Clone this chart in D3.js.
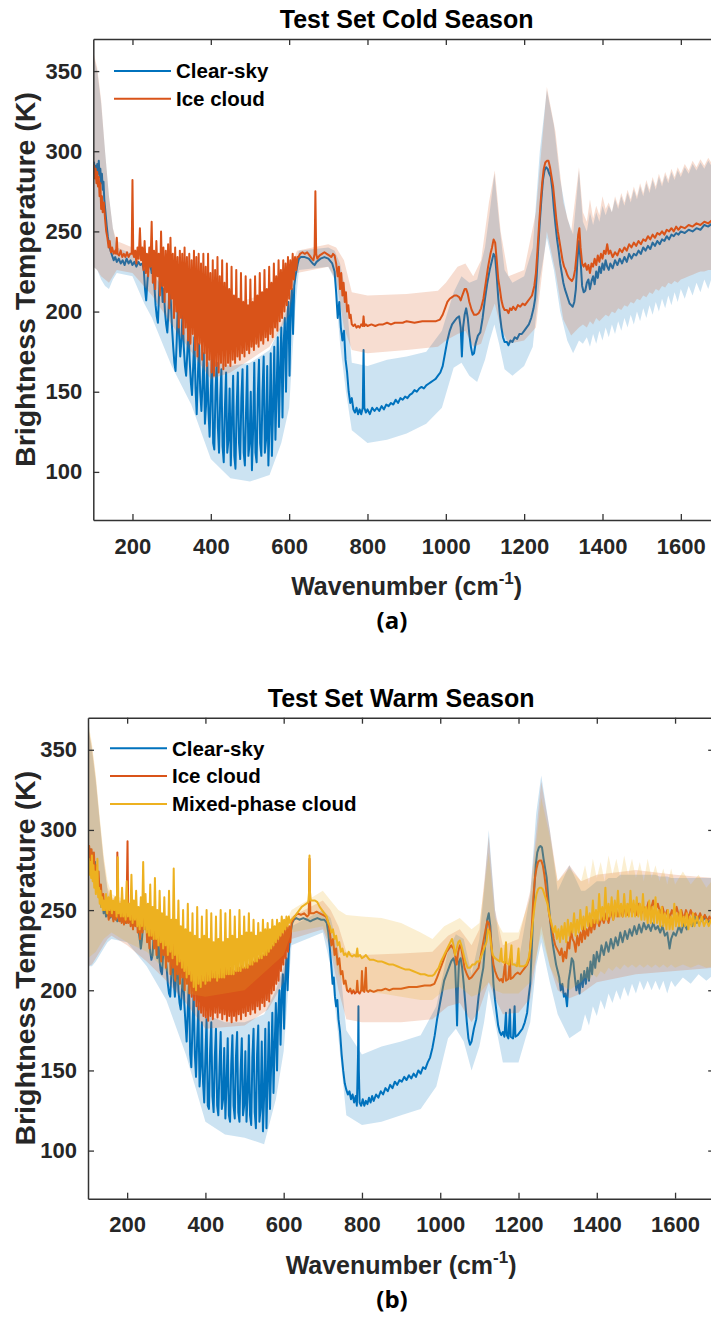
<!DOCTYPE html>
<html>
<head>
<meta charset="utf-8">
<script src="https://cdn.jsdelivr.net/npm/d3@7"></script>
<style>
  body { margin: 0; background: #ffffff; }
  svg { display: block; font-family: "Liberation Sans", Arial, Helvetica, sans-serif; }
</style>
</head>
<body>
<svg id="fig" width="711" height="1320"></svg>
<script>
// ---------------- data ----------------
const wnTicks = [200, 400, 600, 800, 1000, 1200, 1400, 1600];
const btTicks = [100, 150, 200, 250, 300, 350];
const wnDomain = [100, 1700];
const btDomain = [70, 370];

const seriesNamesCold = ["Clear-sky", "Ice cloud"];
const seriesNamesWarm = ["Clear-sky", "Ice cloud", "Mixed-phase cloud"];

// Cold season, clear-sky mean brightness temperature [wavenumber, K]
const coldClear = [[100,287],[102,293],[104,285],[106,291],[108,284],[110,292],[112,286],[114,294],[116,284],[118,289],[120,280],[122,286],[124,276],[126,281],[128,270],[131,262],[134,254],[137,247],[140,242],[144,238],[148,235],[152,232],[156,234],[160,231],
[165,233],[170,230],[175,232],[180,229],[185,233],[190,230],[195,232],[200,229],[205,231],[210,228],[215,231],[220,229],[225,230],[229,226],[232,214],[235,207],[238,218],[241,228],[245,230],[249,224],[252,228],[256,216],[259,204],[262,197],[265,193],[268,212],[271,226],[274,222],[277,206],[280,214],[283,200],[286,192],[289,187],[292,200],[295,218],[298,206],[301,190],[304,178],[307,168],[310,163],[313,182],[316,205],[319,186],[322,172],[325,182],[328,200],[331,178],[334,166],[337,160],[340,174],[343,190],[346,170],[349,156],[352,148],[355,166],[358,184],[361,152],[364,136],[367,160],[370,180],[373,150],[376,138],[379,156],[382,174],[385,130],[388,142],[391,168],[394,138],[397,122],[400,150],[403,170],[406,118],[409,114],[412,150],[415,168],[418,128],[421,112],[424,146],[427,164],[430,116],[433,106],[436,140],[439,162],[442,112],[445,120],[448,152],[451,104],[454,132],[457,160],[460,110],[463,102],[466,140],[469,162],[472,118],[475,108],[478,146],[481,164],[484,112],[487,104],[490,138],[493,166],[496,110],[499,118],[502,150],[505,101],[508,126],[511,168],[514,112],[517,106],[520,148],[523,170],[526,118],[529,110],[532,150],[535,172],[538,112],[541,120],[544,166],[547,104],[550,130],[553,174],[556,110],[559,140],[562,178],[565,120],[568,150],[571,184],[574,128],[577,164],[580,190],[583,134],[586,180],[589,196],[592,150],[595,192],[598,206],[601,160],[604,202],[607,214],[610,186],[613,216],[616,222],[619,226],[622,230],
[625,233],[630,234],[640,234],[650,233],[660,230],[665,229],[670,231],[680,233],[690,234],[700,233],[710,230],[716,225],[720,212],[724,196],[728,206],[732,190],[736,182],[740,188],[744,170],[748,162],[752,150],[756,143],[760,146],[764,139],[768,137],[772,140],[776,136],[780,139],[784,136],[788,140],[790,176],[792,140],[796,137],[800,139],[806,136],[812,140],[818,138],[824,140],[830,138],[836,141],[842,139],[848,142],[854,141],[860,143],[866,142],[872,145],[878,143],[884,146],[890,145],[896,147],[902,146],[908,148],[914,149],[920,151],[926,150],[932,152],[938,153],[944,152],[950,154],[956,155],[962,156],[968,157],[974,158],[980,160],[986,162],[992,166],[998,174],[1004,182],[1010,188],[1016,192],[1022,194],[1028,196],[1034,197],[1038,190],[1041,172],[1044,190],[1048,198],[1052,202],[1056,196],[1060,186],[1064,178],[1068,173],[1072,174],[1076,180],[1082,185],[1088,187],[1094,196],[1100,208],[1106,218],[1112,226],[1118,232],[1122,236],[1126,234],[1130,222],[1134,208],[1138,198],[1142,190],[1146,184],[1150,181],[1156,181],[1160,179],[1165,182],[1170,181],[1176,184],[1182,183],[1188,186],[1194,186],[1200,188],[1206,190],[1212,192],[1218,196],[1224,202],[1228,208],[1232,222],[1236,240],[1240,256],[1244,270],[1248,282],[1252,288],[1256,290],[1260,289],[1264,286],[1268,284],[1272,276],[1276,264],[1280,254],[1284,245],[1288,238],[1292,230],[1296,224],[1300,218],[1304,214],[1308,211],[1312,208],[1316,205],[1320,204],[1324,203],[1328,206],[1332,214],[1336,232],[1340,244],[1344,232],[1348,216],[1352,212],[1356,213],[1360,218],[1364,220],[1368,214],[1372,219],[1376,222],[1380,217],[1384,225],[1388,221],[1392,228],[1396,224],[1400,230],[1404,226],[1408,232],[1412,228],[1416,226],[1420,230],[1426,227],[1432,232],[1438,229],[1444,233],[1450,230],[1456,234],[1462,231],[1468,236],[1474,233],[1480,236],[1486,235],[1492,238],[1498,236],[1504,240],[1510,238],[1516,241],[1522,239],[1528,243],[1534,241],[1540,244],[1546,242],[1552,245],[1558,244],[1564,247],[1570,245],[1576,248],[1582,247],[1588,249],[1594,248],[1600,250],[1610,249],[1620,251],[1630,250],[1640,252],[1650,251],[1660,254],[1670,253],[1680,255],[1690,254],[1700,256]];

// Cold season, ice-cloud mean brightness temperature [wavenumber, K]
const coldIce = [[100,286],[102,291],[104,283],[106,289],[108,280],[110,287],[112,278],[114,284],[116,272],[118,280],[120,264],[122,272],[124,262],[127,268],[130,258],[133,250],[136,246],[139,240],[142,244],[145,237],[148,240],[152,236],[156,238],[158,236],[160,246],[162,236],[166,235],[170,238],[174,234],[178,236],[182,234],[186,237],[190,234],[194,236],[198,236],[200,282],[202,236],
[204,234],[207,238],[210,230],[213,240],[216,233],[219,252],[222,232],[225,240],[228,226],[231,244],[234,224],[237,236],[240,222],[243,240],[246,228],[249,256],[252,218],[255,238],[258,214],[261,244],[264,222],[267,236],[270,210],[273,250],[276,216],[279,240],[282,206],[285,238],[288,212],[291,242],[294,202],[297,246],[300,208],[303,236],[306,196],[309,240],[312,200],[315,234],[318,190],[321,238],[324,196],[327,236],[330,186],[333,240],[336,190],[339,234],[342,182],[345,236],[348,180],[351,232],[354,186],[357,238],[360,176],[363,234],[366,172],[369,236],[372,180],[375,230],[378,170],[381,236],[384,174],[387,228],[390,166],[393,236],[396,170],[399,224],[402,162],[405,232],[408,160],[411,226],[414,166],[417,234],[420,162],[423,222],[426,168],[429,232],[432,164],[435,218],[438,166],[441,230],[444,168],[447,214],[450,166],[453,228],[456,170],[459,210],[462,168],[465,226],[468,172],[471,208],[474,170],[477,224],[480,174],[483,206],[486,172],[489,222],[492,176],[495,204],[498,174],[501,220],[504,178],[507,206],[510,176],[513,222],[516,180],[519,210],[522,178],[525,224],[528,182],[531,212],[534,180],[537,226],[540,184],[543,214],[546,182],[549,228],[552,186],[555,218],[558,184],[561,230],[564,190],[567,222],[570,188],[573,232],[576,194],[579,226],[582,196],[585,232],[588,200],[591,230],[594,204],[597,234],[600,208],[603,232],[606,214],[609,236],[612,220],[615,234],[618,226],[621,234],
[624,234],[628,236],[634,237],[640,236],[646,237],[652,235],[658,233],[662,232],[665,236],[667,275],[669,236],[672,233],[678,235],[684,236],[690,237],[696,236],[702,235],[708,234],[712,236],[716,235],[720,230],[724,222],[727,228],[730,214],[733,224],[736,210],[739,218],[742,206],[745,212],[748,200],[751,204],[754,196],[757,198],[760,192],[764,191],[768,192],[772,190],[776,191],[780,190],[784,192],[788,191],[790,197],[792,191],[796,192],[800,191],[810,192],[820,191],[830,192],[840,192],[850,193],[860,192],[870,193],[880,193],[890,193],[900,194],[920,193],[940,194],[960,194],[975,194],[985,195],[992,198],[998,202],[1004,206],[1010,208],[1016,209],[1022,210],[1028,210],[1034,209],[1038,207],[1042,210],[1048,214],[1052,214],[1056,211],[1060,206],[1066,201],[1072,198],[1078,198],[1084,199],[1090,202],[1096,208],[1102,218],[1108,228],[1114,236],[1118,240],[1122,245],[1126,243],[1130,232],[1134,220],[1138,214],[1142,207],[1146,203],[1150,201],[1156,201],[1160,199],[1164,202],[1168,201],[1172,203],[1178,201],[1184,204],[1190,203],[1196,205],[1202,204],[1208,206],[1214,208],[1220,210],[1226,216],[1230,224],[1234,238],[1238,254],[1242,268],[1246,280],[1250,289],[1254,293],[1258,294],[1262,294],[1266,290],[1270,284],[1274,278],[1278,268],[1282,258],[1286,250],[1290,244],[1294,238],[1298,232],[1302,228],[1306,226],[1310,223],[1314,221],[1318,220],[1322,219],[1326,221],[1330,226],[1334,236],[1338,248],[1341,252],[1344,240],[1348,230],[1352,228],[1356,230],[1360,226],[1364,229],[1368,224],[1372,230],[1376,228],[1380,233],[1384,229],[1388,235],[1392,231],[1396,236],[1400,233],[1404,238],[1408,236],[1412,242],[1416,236],[1420,238],[1426,234],[1432,237],[1438,235],[1444,239],[1450,237],[1456,240],[1462,238],[1468,242],[1474,240],[1480,243],[1486,241],[1492,244],[1498,242],[1504,245],[1510,244],[1516,247],[1522,245],[1528,248],[1534,246],[1540,249],[1546,248],[1552,250],[1558,248],[1564,251],[1570,250],[1576,252],[1582,250],[1588,253],[1594,251],[1600,253],[1610,252],[1620,254],[1630,253],[1640,255],[1650,254],[1660,256],[1670,255],[1680,257],[1690,256],[1700,258]];

// Cold season spread bands [wavenumber, lower K, upper K]
const coldClearBand = [[100,228,360],[110,226,350],[120,220,330],[130,216,300],[140,214,272],[150,220,252],[160,224,240],[200,222,236],[230,205,228],[250,196,224],[300,166,208],[350,142,188],[400,108,170],[450,96,166],[500,94,168],[550,98,176],[580,118,192],[600,140,206],[615,200,228],[625,226,238],[700,228,240],[716,220,238],[730,180,230],[745,150,212],[760,126,168],[800,118,166],[850,120,170],[900,124,172],[950,130,175],[990,140,188],[1020,165,212],[1040,168,222],[1060,160,218],[1080,156,220],[1100,170,240],[1112,182,262],[1124,192,286],[1136,180,256],[1150,164,226],[1170,160,218],[1200,166,222],[1222,178,240],[1240,220,300],[1258,246,338],[1276,226,316],[1292,200,282],[1310,182,258],[1325,174,248],[1340,182,288],
[1350,180,256],[1360,184,250],[1368,178,262],[1376,186,254],[1384,180,262],[1392,188,256],[1400,182,266],[1408,190,260],[1416,184,266],[1424,192,262],[1432,186,270],[1440,194,264],[1448,188,272],[1456,196,266],[1464,190,274],[1472,198,268],[1480,192,276],[1488,200,270],[1496,194,278],[1504,202,272],[1512,196,280],[1520,204,274],[1528,198,282],[1536,206,276],[1544,200,284],[1552,208,278],[1560,202,285],[1568,210,280],[1576,204,287],[1584,212,282],[1592,206,288],[1600,214,284],[1610,208,290],[1620,216,286],[1630,210,292],[1640,218,288],[1650,212,293],[1660,220,289],[1670,214,294],[1680,222,290],[1690,216,295],[1700,222,292]];
const coldIceBand = [[100,228,362],[110,226,352],[120,222,332],[130,220,300],[140,218,272],[150,222,252],[160,226,244],[200,224,240],[250,210,232],[300,192,225],[350,175,215],[400,158,205],[450,162,205],[500,170,208],[550,178,212],[600,198,225],[620,224,238],[700,228,242],[720,220,240],[740,190,232],[760,176,212],[800,174,210],[900,176,211],[980,178,213],[1000,182,218],[1030,186,228],[1050,188,230],[1070,178,222],[1090,180,232],[1110,195,268],[1125,205,288],[1140,190,250],[1160,180,222],[1200,182,226],[1230,190,262],[1258,250,340],[1280,225,312],[1300,195,268],[1320,185,250],[1340,190,290],
[1350,192,262],[1360,190,256],[1368,194,270],[1376,192,258],[1384,196,266],[1392,194,260],[1400,196,272],[1408,198,264],[1416,197,268],[1424,200,262],[1432,199,272],[1440,202,266],[1448,201,274],[1456,204,268],[1464,203,276],[1472,206,270],[1480,205,278],[1488,208,272],[1496,207,280],[1504,210,274],[1512,209,282],[1520,212,276],[1528,211,284],[1536,214,278],[1544,213,286],[1552,216,280],[1560,215,287],[1568,218,282],[1576,217,289],[1584,219,284],[1592,218,290],[1600,220,286],[1610,221,292],[1620,222,288],[1630,223,294],[1640,224,290],[1650,225,295],[1660,225,291],[1670,226,296],[1680,226,292],[1690,227,297],[1700,227,294]];

// Warm season, clear-sky mean brightness temperature [wavenumber, K]
const warmClear = [[100,284],[102,290],[104,282],[106,288],[108,278],[110,286],[112,276],[114,282],[116,272],[118,280],[120,268],[122,274],[124,264],[126,270],[128,258],[131,262],[134,252],[137,256],[140,248],[143,252],[146,246],[150,248],[155,245],[160,247],[165,244],[170,246],[175,243],[180,246],[185,243],[190,245],[195,242],[200,245],[205,243],[210,245],[215,242],[220,244],[225,241],[229,238],[232,232],[235,226],[238,232],[241,242],[245,244],[249,238],[252,240],[256,232],[259,224],[262,219],[265,222],[268,236],[271,240],[274,232],[277,220],[280,230],[283,218],[286,212],[289,210],[292,222],[295,236],[298,222],[301,214],[304,204],[307,198],[310,196],[313,210],[316,228],[319,206],[322,196],[325,208],[328,222],[331,200],[334,192],[337,188],[340,200],[343,214],[346,192],[349,180],[352,168],[355,188],[358,206],[361,160],[364,152],[367,178],[370,198],[373,160],[376,146],[379,170],[382,190],[385,140],[388,152],[391,180],[394,142],[397,130],[400,160],[403,182],[406,128],[409,126],[412,162],[415,180],[418,134],[421,124],[424,158],[427,176],[430,128],[433,122],[436,152],[439,174],[442,126],[445,132],[448,164],[451,120],[454,142],[457,170],[460,122],[463,118],[466,154],[469,172],[472,128],[475,120],[478,158],[481,174],[484,124],[487,118],[490,150],[493,170],[496,122],[499,128],[502,162],[505,118],[508,136],[511,172],[514,122],[517,116],[520,158],[523,176],[526,124],[529,114],[532,160],[535,178],[538,118],[541,126],[544,168],[547,112],[550,134],[553,176],[556,114],[559,144],[562,180],[565,126],[568,154],[571,186],[574,136],[577,166],[580,192],[583,150],[586,184],[589,200],[592,166],[595,198],[598,210],[601,176],[604,208],[607,220],[610,200],[613,224],[616,232],[619,238],[622,242],
[626,244],[632,245],[640,244],[650,245],[660,244],[668,243],[676,244],[686,245],[696,244],[704,244],[710,242],[714,236],[718,226],[722,214],[725,204],[728,208],[731,196],[734,190],[737,194],[740,182],[744,174],[748,160],[752,150],[756,142],[760,138],[764,135],[768,137],[772,132],[776,135],[780,130],[784,134],[787,128],[790,160],[791,190],[792,150],[794,130],[798,128],[802,132],[806,128],[810,131],[814,129],[818,133],[822,130],[826,134],[830,131],[836,135],[842,133],[848,137],[854,135],[860,139],[866,137],[872,141],[878,139],[884,143],[890,141],[896,144],[902,143],[908,146],[914,144],[920,147],[926,145],[932,148],[938,146],[944,150],[950,148],[956,152],[962,151],[968,155],[974,158],[980,164],[986,172],[992,182],[998,190],[1004,198],[1010,206],[1016,210],[1022,214],[1028,218],[1034,220],[1038,216],[1041,196],[1043,178],[1045,200],[1048,218],[1052,220],[1056,214],[1060,204],[1064,192],[1068,180],[1072,170],[1076,166],[1080,168],[1086,176],[1092,182],[1098,196],[1104,206],[1110,214],[1116,232],[1120,244],[1124,248],[1128,240],[1132,222],[1136,204],[1140,194],[1144,186],[1148,178],[1152,174],[1156,172],[1160,174],[1164,171],[1168,186],[1170,172],[1174,170],[1178,188],[1180,171],[1186,170],[1190,190],[1192,171],[1198,172],[1204,174],[1210,176],[1216,180],[1222,186],[1226,196],[1230,204],[1236,238],[1240,262],[1244,278],[1248,286],[1252,289],[1256,290],[1260,289],[1264,282],[1268,276],[1272,270],[1276,258],[1280,246],[1284,236],[1288,228],[1292,222],[1296,216],[1300,212],[1304,208],[1308,200],[1312,204],[1316,196],[1320,198],[1324,190],[1328,206],[1332,212],[1336,220],[1340,218],[1344,208],[1348,200],[1352,206],[1356,198],[1360,210],[1364,202],[1368,212],[1372,204],[1376,214],[1380,206],[1384,218],[1388,210],[1392,222],[1396,214],[1400,224],[1406,218],[1412,228],[1418,222],[1424,230],[1430,224],[1436,232],[1442,226],[1448,233],[1454,228],[1460,236],[1466,230],[1472,237],[1478,232],[1484,238],[1490,234],[1496,240],[1502,235],[1508,241],[1514,236],[1520,242],[1526,238],[1532,241],[1538,237],[1544,242],[1550,238],[1556,240],[1562,236],[1568,240],[1574,234],[1580,236],[1586,226],[1590,232],[1596,236],[1602,234],[1610,240],[1616,236],[1622,242],[1630,238],[1636,244],[1644,240],[1650,246],[1656,242],[1664,247],[1670,243],[1678,246],[1686,242],[1692,244],[1700,241]];

// Warm season, ice-cloud mean brightness temperature [wavenumber, K]
const warmIce = [[100,284],[103,290],[106,280],[109,288],[112,276],[115,286],[118,270],[121,278],[124,264],[127,274],[130,258],[133,266],[136,254],[139,260],[142,250],[145,256],[148,248],
[150,250],[153,244],[156,252],[159,246],[162,250],[165,243],[168,252],[171,244],[174,248],[175,286],[177,246],[180,243],[183,250],[186,242],[189,248],[192,241],[195,250],[198,242],[201,293],[203,242],[206,248],[209,240],[212,250],[215,238],[218,248],[221,240],[224,252],[227,236],[230,246],[233,232],[236,250],[239,236],[242,248],[245,240],[248,252],[251,230],[254,246],[257,226],[260,244],[263,232],[266,250],[269,226],[272,244],[275,222],[278,248],[281,228],[284,242],[287,218],[290,246],[293,222],[296,240],[299,214],[302,244],[305,218],[308,238],[311,210],[314,242],[317,214],[320,236],[323,206],[326,240],[329,210],[332,234],[335,204],[338,238],[341,208],[344,232],[347,200],[350,236],[353,204],[356,230],[359,198],[362,234],[365,196],[368,226],[371,194],[374,232],[377,190],[380,224],[383,188],[386,230],[389,186],[392,222],[395,184],[398,228],[401,183],[404,220],[407,181],[410,226],[413,184],[416,218],[419,182],[422,224],[425,186],[428,218],[431,183],[434,222],[437,186],[440,216],[443,182],[446,220],[449,185],[452,214],[455,181],[458,220],[461,184],[464,214],[467,180],[470,218],[473,184],[476,212],[479,181],[482,218],[485,185],[488,214],[491,182],[494,220],[497,186],[500,214],[503,184],[506,222],[509,187],[512,216],[515,185],[518,224],[521,188],[524,218],[527,186],[530,226],[533,190],[536,220],[539,188],[542,228],[545,192],[548,222],[551,190],[554,230],[557,194],[560,226],[563,193],[566,232],[569,198],[572,228],[575,200],[578,234],[581,204],[584,232],[587,206],[590,236],[593,212],[596,236],[599,216],[602,238],[605,220],[608,240],[611,224],[614,240],[617,230],[620,242],[624,244],
[628,246],[636,248],[644,247],[652,248],[660,246],[664,247],[666,282],[668,248],[676,248],[684,249],[692,248],[700,247],[708,246],[714,242],[718,236],[722,228],[726,232],[730,222],[734,226],[738,216],[742,220],[746,210],[750,212],[754,204],[758,206],[762,200],[766,199],[770,201],[774,198],[778,200],[782,198],[786,199],[788,206],[790,199],[794,198],[798,200],[800,212],[802,200],[806,199],[810,214],[812,200],[816,199],[820,200],[830,199],[840,200],[850,200],[860,201],[870,200],[880,201],[890,201],[900,201],[920,202],[940,202],[960,203],[975,203],[985,204],[992,208],[998,212],[1004,216],[1010,220],[1016,224],[1022,226],[1028,228],[1034,226],[1038,222],[1042,216],[1046,224],[1050,228],[1054,226],[1058,220],[1062,214],[1068,210],[1074,207],[1080,208],[1086,210],[1092,212],[1098,214],[1104,222],[1110,230],[1116,238],[1120,243],[1124,242],[1128,236],[1132,224],[1136,216],[1140,212],[1146,208],[1152,206],[1156,207],[1160,205],[1166,218],[1168,206],[1174,207],[1178,220],[1180,207],[1186,208],[1192,210],[1198,211],[1204,210],[1210,212],[1216,214],[1222,216],[1228,220],[1234,240],[1238,258],[1242,270],[1246,276],[1250,280],[1254,281],[1258,281],[1262,278],[1266,272],[1270,264],[1274,256],[1278,248],[1282,242],[1286,238],[1290,232],[1294,228],[1298,226],[1302,224],[1306,222],[1310,226],[1314,218],[1318,224],[1322,220],[1326,230],[1330,226],[1334,238],[1338,232],[1342,230],[1346,224],[1350,234],[1354,228],[1358,236],[1362,230],[1366,240],[1370,232],[1374,238],[1378,234],[1382,242],[1386,236],[1390,244],[1394,238],[1400,246],[1406,240],[1412,246],[1418,242],[1424,248],[1430,242],[1436,250],[1442,244],[1448,252],[1454,246],[1460,250],[1466,246],[1472,252],[1478,247],[1484,254],[1490,248],[1496,252],[1502,247],[1508,254],[1514,248],[1520,252],[1526,249],[1532,255],[1538,250],[1544,256],[1550,250],[1556,254],[1562,248],[1568,252],[1574,246],[1580,250],[1586,245],[1592,250],[1598,246],[1604,252],[1610,246],[1616,250],[1622,244],[1628,250],[1634,245],[1640,250],[1646,246],[1652,248],[1658,244],[1664,248],[1670,244],[1676,247],[1682,243],[1688,246],[1694,242],[1700,244]];

// Warm season, mixed-phase cloud mean brightness temperature [wavenumber, K]
const warmMixed = [[100,276],[102,282],[104,272],[106,280],[108,270],[110,284],[112,268],[114,278],[116,264],[118,274],[120,260],[122,266],[124,282],[126,258],[128,264],[130,254],[132,262],[134,252],[136,258],[138,250],[140,256],[143,250],[146,260],[149,248],[152,258],[155,250],[158,262],[161,248],[164,256],[167,250],[170,258],[173,246],[176,283],[178,248],[181,254],[184,246],[187,264],[190,246],[193,256],[196,244],[199,268],[202,246],[205,254],[208,244],[211,272],[214,242],[217,256],[220,244],[223,262],[226,240],[229,252],[232,238],[235,258],[238,240],[241,280],[244,238],[247,260],[250,236],[253,254],[256,234],[259,266],[262,234],[265,252],[268,232],[271,270],[274,232],[277,250],[280,228],[283,262],[286,230],[289,248],[292,226],[295,258],[298,228],[301,246],[304,222],[307,262],[310,224],[313,244],[316,220],[319,276],[322,222],[325,244],[328,216],[331,256],[334,218],[337,240],[340,214],[343,250],[346,212],[349,238],[352,208],[355,254],[358,210],[361,236],[364,206],[367,248],[370,202],[373,234],[376,200],[379,252],[382,204],[385,232],[388,202],[391,246],[394,206],[397,234],[400,204],[403,250],[406,206],[409,232],[412,206],[415,248],[418,208],[421,230],[424,208],[427,246],[430,206],[433,232],[436,208],[439,250],[442,208],[445,230],[448,208],[451,248],[454,210],[457,232],[460,210],[463,250],[466,210],[469,234],[472,210],[475,246],[478,212],[481,232],[484,212],[487,250],[490,212],[493,234],[496,214],[499,246],[502,214],[505,236],[508,214],[511,248],[514,216],[517,236],[520,216],[523,244],[526,218],[529,234],[532,218],[535,242],[538,220],[541,236],[544,220],[547,244],[550,222],[553,238],[556,222],[559,242],[562,224],[565,238],[568,226],[571,244],[574,228],[577,240],[580,230],[583,244],[586,232],[589,242],[592,234],[595,246],[598,236],[601,244],[604,238],[607,246],[610,240],[613,246],[616,242],[620,244],[624,245],
[628,246],[634,248],[640,250],[646,252],[652,253],[658,254],[663,255],[665,262],[666,284],[667,262],[669,256],[674,256],[680,256],[686,255],[692,252],[698,250],[704,248],[710,246],[714,242],[718,240],[722,236],[726,238],[730,232],[734,234],[738,228],[742,230],[746,224],[750,226],[754,222],[758,223],[762,221],[766,224],[770,222],[775,221],[780,222],[785,221],[788,226],[790,221],[795,222],[800,220],[806,221],[810,222],[816,220],[820,219],[830,219],[840,218],[850,218],[860,217],[870,216],[880,216],[890,215],[900,214],[910,213],[920,213],[930,212],[940,211],[950,210],[960,210],[970,209],[980,209],[985,210],[990,212],[996,214],[1002,218],[1008,221],[1014,224],[1020,227],[1026,230],[1030,232],[1034,228],[1038,222],[1042,226],[1046,230],[1050,231],[1054,228],[1058,224],[1064,218],[1070,214],[1076,214],[1082,216],[1088,216],[1094,218],[1100,218],[1106,222],[1112,226],[1118,230],[1122,238],[1126,236],[1130,228],[1134,222],[1140,220],[1146,219],[1152,218],[1156,226],[1158,218],[1164,217],[1168,230],[1170,217],[1176,216],[1182,228],[1184,216],[1190,216],[1196,215],[1200,226],[1202,215],[1208,215],[1214,215],[1220,216],[1226,220],[1230,226],[1234,236],[1238,246],[1242,254],[1246,260],[1250,263],[1254,264],[1258,264],[1262,263],[1266,260],[1270,257],[1274,254],[1278,248],[1282,244],[1286,240],[1290,236],[1294,240],[1298,232],[1302,238],[1306,230],[1310,240],[1314,232],[1318,242],[1322,230],[1326,244],[1330,234],[1334,242],[1338,236],[1342,248],[1346,234],[1350,244],[1354,236],[1358,250],[1362,238],[1366,246],[1370,238],[1374,252],[1378,240],[1382,248],[1386,240],[1390,256],[1394,242],[1398,250],[1402,242],[1406,260],[1410,244],[1414,252],[1418,244],[1422,264],[1426,244],[1430,254],[1434,246],[1438,258],[1442,244],[1446,256],[1450,246],[1454,262],[1458,246],[1462,254],[1466,246],[1470,260],[1474,246],[1478,254],[1482,246],[1486,262],[1490,246],[1494,256],[1498,246],[1502,258],[1506,246],[1510,254],[1514,244],[1518,260],[1522,244],[1526,252],[1530,242],[1534,256],[1538,242],[1542,252],[1546,242],[1550,258],[1554,242],[1558,250],[1562,240],[1566,252],[1570,240],[1574,248],[1578,238],[1582,250],[1586,238],[1590,246],[1594,238],[1598,254],[1602,240],[1606,248],[1610,240],[1614,250],[1618,240],[1622,246],[1626,240],[1630,248],[1634,238],[1638,246],[1642,240],[1646,248],[1650,240],[1656,246],[1662,240],[1668,246],[1674,240],[1680,244],[1686,240],[1692,244],[1700,242]];

// Warm season spread bands [wavenumber, lower K, upper K]
const warmClearBand = [[100,215,365],[110,215,350],[120,218,330],[130,222,305],[140,226,280],[150,230,262],[160,232,252],[200,230,248],[250,215,240],[300,194,225],[350,160,205],[400,118,185],[450,110,180],[500,108,180],[550,104,185],[580,132,200],[600,162,215],[620,228,240],[700,236,250],[720,215,245],[740,170,225],[760,122,175],[800,116,160],[850,118,165],[900,122,168],[950,126,172],[990,140,190],[1020,170,225],[1040,176,235],[1060,168,232],[1080,150,210],[1100,165,232],[1112,180,262],[1124,200,300],[1140,180,250],[1160,155,215],[1200,155,218],[1230,180,260],[1245,215,310],[1258,230,334],[1280,205,300],[1300,185,262],[1330,170,278],
[1360,175,262],[1370,185,262],[1380,178,264],[1390,190,266],[1400,184,268],[1410,194,268],[1420,188,268],[1430,198,270],[1440,192,270],[1450,200,270],[1460,194,272],[1470,202,272],[1480,196,272],[1490,204,272],[1500,198,272],[1510,206,272],[1520,200,272],[1530,206,272],[1540,200,272],[1550,206,272],[1560,200,271],[1570,206,271],[1580,198,271],[1590,206,270],[1600,202,270],[1620,208,270],[1640,204,270],[1660,210,270],[1680,206,270],[1700,210,270]];
const warmIceBand = [[100,215,365],[110,216,352],[120,220,332],[130,224,306],[140,228,282],[150,232,264],[160,234,258],[200,228,254],[250,218,240],[300,206,232],[350,192,222],[400,176,215],[500,178,215],[560,188,222],[600,205,232],[620,232,246],[700,238,256],[720,225,250],[740,200,240],[760,182,224],[800,180,222],[900,180,223],[980,182,224],[1020,190,234],[1050,192,238],[1080,180,228],[1100,188,238],[1124,205,296],[1140,195,250],[1160,185,228],[1200,186,232],[1230,195,262],[1258,240,330],[1280,215,300],[1300,200,268],[1330,195,278],[1360,198,268],[1400,205,272],[1500,210,275],[1600,212,272],[1700,214,270]];
const warmMixedBand = [[100,220,368],[110,222,354],[120,224,334],[130,228,308],[140,232,284],[150,234,268],[160,236,260],[200,230,256],[250,224,245],[300,212,240],[350,198,232],[400,196,230],[500,200,232],[600,222,240],[620,236,250],[700,240,262],[720,228,256],[740,210,250],[760,200,247],[800,199,246],[850,198,245],[900,196,242],[950,194,236],[980,194,232],[1010,200,240],[1050,202,245],[1080,196,238],[1100,198,242],[1124,205,286],[1140,200,245],[1160,198,236],[1200,198,236],[1230,205,258],[1258,235,320],[1280,215,296],[1300,205,268],[1330,200,276],
[1360,205,268],[1370,208,278],[1380,206,266],[1390,210,282],[1400,208,270],[1410,212,280],[1420,210,268],[1430,214,284],[1440,212,272],[1450,215,282],[1460,213,270],[1470,216,284],[1480,214,272],[1490,216,282],[1500,214,270],[1510,216,280],[1520,214,268],[1530,216,282],[1540,214,270],[1550,216,278],[1560,214,268],[1570,216,276],[1580,214,266],[1590,216,276],[1600,214,266],[1620,216,274],[1640,214,266],[1660,216,272],[1680,214,264],[1700,215,270]];

// ---------------- drawing ----------------
const colors = { clear: "#0072BD", ice: "#D95319", mixed: "#EDB120" };
const svg = d3.select("#fig");

const panels = [
  { title: "Test Set Cold Season", tag: "(a)", top: 39, bottom: 520, left: 93.3, right: 720,
    names: seriesNamesCold,
    series: [ { line: coldClear, band: coldClearBand, color: colors.clear },
              { line: coldIce, band: coldIceBand, color: colors.ice } ],
    legendX: 114, legendY: 71 },
  { title: "Test Set Warm Season", tag: "(b)", top: 717.7, bottom: 1198.7, left: 88, right: 714.2,
    names: seriesNamesWarm,
    series: [ { line: warmClear, band: warmClearBand, color: colors.clear },
              { line: warmIce, band: warmIceBand, color: colors.ice },
              { line: warmMixed, band: warmMixedBand, color: colors.mixed } ],
    legendX: 110, legendY: 748.3 }
];

const axisColor = "#333333";
const tickFmt = d3.format("d");

panels.forEach((p, pi) => {
  const x = d3.scaleLinear().domain(wnDomain).range([p.left, p.right]);
  const y = d3.scaleLinear().domain(btDomain).range([p.bottom, p.top]);
  const g = svg.append("g");

  const clipId = "clip" + pi;
  svg.append("clipPath").attr("id", clipId)
    .append("rect").attr("x", p.left).attr("y", p.top)
    .attr("width", p.right - p.left).attr("height", p.bottom - p.top);

  const plot = g.append("g").attr("clip-path", `url(#${clipId})`);
  const area = d3.area().x(d => x(d[0])).y0(d => y(d[1])).y1(d => y(d[2]));
  const line = d3.line().x(d => x(d[0])).y(d => y(d[1]));

  p.series.forEach(s => {
    plot.append("path").datum(s.band)
      .attr("d", area).attr("fill", s.color).attr("fill-opacity", 0.2);
    plot.append("path").datum(s.line)
      .attr("d", line).attr("fill", "none").attr("stroke", s.color)
      .attr("stroke-width", 2).attr("stroke-linejoin", "round");
  });

  // axes (ticks point inward on all four sides)
  const styleAxis = sel => {
    sel.selectAll(".domain").attr("stroke", axisColor).attr("stroke-width", 1.5);
    sel.selectAll(".tick line").attr("stroke", axisColor).attr("stroke-width", 1.3);
    sel.selectAll(".tick text").attr("fill", "#262626")
      .attr("font-size", 22).attr("font-weight", "bold");
  };
  g.append("g").attr("transform", `translate(0,${p.bottom})`)
    .call(d3.axisBottom(x).tickValues(wnTicks).tickFormat(tickFmt)
      .tickSizeInner(-6).tickSizeOuter(0).tickPadding(18))
    .call(styleAxis);
  g.append("g").attr("transform", `translate(0,${p.top})`)
    .call(d3.axisTop(x).tickValues(wnTicks).tickSizeInner(-6).tickSizeOuter(0).tickFormat(""))
    .call(styleAxis);
  g.append("g").attr("transform", `translate(${p.left},0)`)
    .call(d3.axisLeft(y).tickValues(btTicks).tickFormat(tickFmt)
      .tickSizeInner(-6).tickSizeOuter(0).tickPadding(11))
    .call(styleAxis);
  g.append("g").attr("transform", `translate(${p.right},0)`)
    .call(d3.axisRight(y).tickValues(btTicks).tickSizeInner(-6).tickSizeOuter(0).tickFormat(""))
    .call(styleAxis);

  const cx = (p.left + p.right) / 2;
  g.append("text").attr("x", cx).attr("y", p.top - 11)
    .attr("text-anchor", "middle").attr("font-size", 25).attr("font-weight", "bold")
    .attr("fill", "#000").text(p.title);

  const xl = g.append("text").attr("x", cx).attr("y", p.bottom + 75)
    .attr("text-anchor", "middle").attr("font-size", 25).attr("font-weight", "bold")
    .attr("fill", "#262626");
  xl.append("tspan").text("Wavenumber (cm");
  xl.append("tspan").attr("dy", -11).attr("font-size", 17).text("-1");
  xl.append("tspan").attr("dy", 11).text(")");

  g.append("text")
    .attr("transform", `translate(35,${(p.top + p.bottom) / 2}) rotate(-90)`)
    .attr("text-anchor", "middle").attr("font-size", 28.5).attr("font-weight", "bold")
    .attr("fill", "#262626").text("Brightness Temperature (K)");

  g.append("text").attr("x", 392).attr("y", p.bottom + 109)
    .attr("text-anchor", "middle").attr("font-size", 24).attr("font-weight", "bold")
    .attr("font-family", "'Open Sans', sans-serif")
    .attr("fill", "#000").text(p.tag);

  // legend
  const leg = g.append("g");
  p.names.forEach((name, i) => {
    const ly = p.legendY + i * 27.8;
    leg.append("line").attr("x1", p.legendX).attr("x2", p.legendX + 57)
      .attr("y1", ly).attr("y2", ly)
      .attr("stroke", p.series[i].color).attr("stroke-width", 2);
    leg.append("text").attr("x", p.legendX + 62).attr("y", ly)
      .attr("dy", "0.36em").attr("font-size", 20.5).attr("font-weight", "bold")
      .attr("fill", "#000").text(name);
  });
});
</script>
</body>
</html>
